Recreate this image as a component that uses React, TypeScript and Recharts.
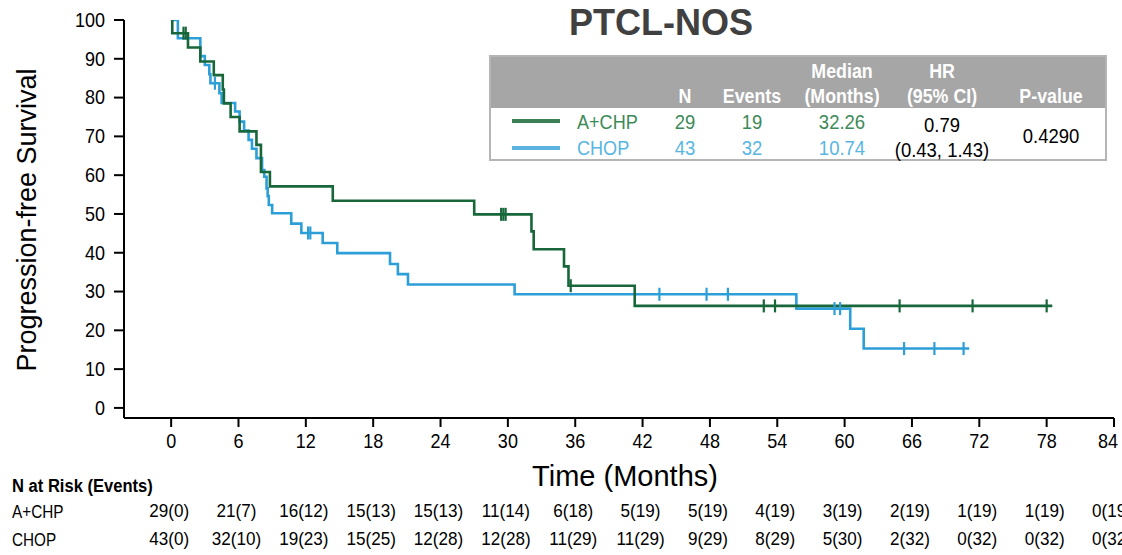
import React from 'react';
import { ComposedChart, Line, Scatter, XAxis, YAxis } from 'recharts';

const FONT = '"Liberation Sans", Arial, sans-serif';

const GREEN = '#17673a';
const BLUE = '#2d9fd8';
const GREEN_TXT = '#3d8a58';
const BLUE_TXT = '#58b6e2';

const xTicks = [0, 6, 12, 18, 24, 30, 36, 42, 48, 54, 60, 66, 72, 78, 84];
const yTicks = [0, 10, 20, 30, 40, 50, 60, 70, 80, 90, 100];

// A+CHP KM steps
const achpTimes = [0, 0.1, 1.5, 2.6, 3.8, 4.6, 4.7, 5.3, 6.1, 7.6, 8.0, 8.8, 14.4, 27.0, 32.1, 32.3, 35.0, 35.4, 41.3, 78.5];
const achpSurv = [100, 96.6, 92.9, 89.3, 85.8, 82.1, 78.5, 75.0, 71.3, 67.8, 60.8, 57.1, 53.4, 49.9, 45.5, 40.9, 36.5, 31.5, 26.3, 26.3];
const achpCensorTimes = [1.1, 1.3, 29.4, 29.6, 29.8, 35.6, 52.8, 53.8, 64.9, 71.4, 78.0];
const achpCensorSurv = [96.6, 96.6, 49.9, 49.9, 49.9, 31.5, 26.3, 26.3, 26.3, 26.3, 26.3];

// CHOP KM steps
const chopTimes = [0, 0.6, 2.6, 3.0, 3.4, 3.5, 4.3, 4.5, 5.7, 6.1, 6.5, 6.9, 7.2, 7.6, 8.1, 8.3, 8.5, 8.6, 8.7, 9.0, 10.7, 11.6, 13.5, 14.8, 19.5, 20.2, 21.1, 30.6, 55.7, 60.5, 61.7, 71.1];
const chopSurv = [100, 95.3, 90.7, 88.4, 86.0, 83.7, 81.1, 78.6, 76.4, 73.8, 71.5, 69.1, 66.8, 64.4, 61.3, 59.6, 56.6, 54.6, 52.3, 50.2, 47.5, 45.1, 42.5, 39.9, 37.1, 34.5, 31.8, 29.3, 25.6, 20.4, 15.3, 15.3];
const chopCensorTimes = [3.9, 12.2, 12.4, 43.5, 47.7, 49.6, 59.1, 59.6, 65.3, 68.0, 70.6];
const chopCensorSurv = [83.7, 45.1, 45.1, 29.3, 29.3, 29.3, 25.6, 25.6, 15.3, 15.3, 15.3];

const riskACHP = ['29(0)', '21(7)', '16(12)', '15(13)', '15(13)', '11(14)', '6(18)', '5(19)', '5(19)', '4(19)', '3(19)', '2(19)', '1(19)', '1(19)', '0(19)'];
const riskCHOP = ['43(0)', '32(10)', '19(23)', '15(25)', '12(28)', '12(28)', '11(29)', '11(29)', '9(29)', '8(29)', '5(30)', '2(32)', '0(32)', '0(32)', '0(32)'];

const arms = ['A+CHP', 'CHOP'];
const armN = ['29', '43'];
const armEvents = ['19', '32'];
const armMedian = ['32.26', '10.74'];
const hrValue = '0.79';
const hrCI = '(0.43, 1.43)';
const pValue = '0.4290';

const zip = (t: number[], s: number[]) => t.map((v, i) => ({ t: v, s: s[i] }));
const achpData = zip(achpTimes, achpSurv);
const chopData = zip(chopTimes, chopSurv);
const achpCensor = zip(achpCensorTimes, achpCensorSurv);
const chopCensor = zip(chopCensorTimes, chopCensorSurv);

const censorShape = (color: string) => (props: any) => {
  const { cx, cy } = props;
  return <line x1={cx} x2={cx} y1={cy - 6.5} y2={cy + 6.5} stroke={color} strokeWidth={2.2} />;
};

const XTick = (props: any) => {
  const { x, y, payload } = props;
  const i = xTicks.indexOf(payload.value);
  const last = i === xTicks.length - 1;
  const common = { textAnchor: 'middle' as const, dominantBaseline: 'central' as const, fontFamily: FONT, fill: '#000' };
  return (
    <g>
      <text transform={`translate(${last ? x - 6 : x},${y + 10}) scale(0.9,1)`} fontSize={20} {...common}>{payload.value}</text>
      <text transform={`translate(${x - 2},${y + 80}) scale(0.95,1)`} fontSize={18} {...common}>{riskACHP[i]}</text>
      <text transform={`translate(${x - 2},${y + 108}) scale(0.95,1)`} fontSize={18} {...common}>{riskCHOP[i]}</text>
    </g>
  );
};

const YTick = (props: any) => {
  const { x, y, payload } = props;
  return (
    <text transform={`translate(${x},${y}) scale(0.9,1)`} textAnchor="end" dominantBaseline="central" fontSize={20} fontFamily={FONT} fill="#000">
      {payload.value}
    </text>
  );
};

const T = ({ x, y, children, style, sx = 0.88 }: any) => (
  <div
    style={{
      position: 'absolute',
      left: x,
      top: y,
      transform: `translate(-50%, -50%) scaleX(${sx})`,
      whiteSpace: 'nowrap',
      lineHeight: 1,
      fontFamily: FONT,
      ...style,
    }}
  >
    {children}
  </div>
);

const L = ({ x, y, children, style, sx = 0.86 }: any) => (
  <div
    style={{
      position: 'absolute',
      left: x,
      top: y,
      transformOrigin: 'left center',
      transform: `translate(0, -50%) scaleX(${sx})`,
      whiteSpace: 'nowrap',
      lineHeight: 1,
      fontFamily: FONT,
      ...style,
    }}
  >
    {children}
  </div>
);

export default function App() {
  const hdr = { color: '#fff', fontWeight: 700, fontSize: 20 };
  const body = { fontSize: 21 };
  return (
    <div style={{ position: 'absolute', left: 0, top: 0, width: 1122, height: 555, background: '#fff', overflow: 'hidden' }}>
      <ComposedChart width={1122} height={555} margin={{ top: 20, right: 8, left: 0, bottom: 0 }}>
        <XAxis
          xAxisId="main"
          type="number"
          dataKey="t"
          domain={[-4.2, 84]}
          allowDataOverflow
          ticks={xTicks}
          interval={0}
          height={137}
          tickSize={9}
          tickMargin={4}
          axisLine={{ stroke: '#000', strokeWidth: 2 }}
          tickLine={{ stroke: '#000', strokeWidth: 2 }}
          tick={<XTick />}
          label={{ value: 'Time (Months)', position: 'insideBottom', offset: 69, dx: 6, fill: '#000', fontSize: 29, fontFamily: FONT }}
        />
        <YAxis
          type="number"
          dataKey="s"
          domain={[-2.6, 100]}
          allowDataOverflow
          ticks={yTicks}
          interval={0}
          width={124}
          tickSize={10}
          tickMargin={9}
          axisLine={{ stroke: '#000', strokeWidth: 2 }}
          tickLine={{ stroke: '#000', strokeWidth: 2 }}
          tick={<YTick />}
        />
        <Line xAxisId="main" data={chopData} dataKey="s" type="stepAfter" stroke={BLUE} strokeWidth={2.6} dot={false} isAnimationActive={false} />
        <Line xAxisId="main" data={achpData} dataKey="s" type="stepAfter" stroke={GREEN} strokeWidth={2.6} dot={false} isAnimationActive={false} />
        <Scatter xAxisId="main" data={chopCensor} dataKey="s" shape={censorShape(BLUE)} isAnimationActive={false} />
        <Scatter xAxisId="main" data={achpCensor} dataKey="s" shape={censorShape(GREEN)} isAnimationActive={false} />
      </ComposedChart>

      {/* Y label */}
      <div
        style={{
          position: 'absolute',
          left: 27,
          top: 220,
          transform: 'translate(-50%, -50%) rotate(-90deg)',
          whiteSpace: 'nowrap',
          fontFamily: FONT,
          fontSize: 27,
          lineHeight: 1,
        }}
      >
        Progression-free Survival
      </div>

      {/* Title */}
      <T x={661} y={23} sx={1} style={{ fontWeight: 700, fontSize: 36, color: '#404040' }}>PTCL-NOS</T>

      {/* Legend table */}
      <div style={{ position: 'absolute', left: 489, top: 55, width: 618, height: 106, border: '2px solid #b5b5b5', boxSizing: 'border-box', background: '#fff' }}>
        <div style={{ height: 51, background: '#a6a6a6' }} />
      </div>
      <T x={685} y={96} sx={0.89} style={hdr}>N</T>
      <T x={752} y={96} sx={0.89} style={hdr}>Events</T>
      <T x={842} y={71} sx={0.89} style={hdr}>Median</T>
      <T x={842} y={96} sx={0.89} style={hdr}>(Months)</T>
      <T x={942} y={71} sx={0.89} style={hdr}>HR</T>
      <T x={942} y={96} sx={0.89} style={hdr}>(95% CI)</T>
      <T x={1051} y={96} sx={0.89} style={hdr}>P-value</T>

      <div style={{ position: 'absolute', left: 512, top: 119, width: 48, height: 4, background: '#3d7f55' }} />
      <div style={{ position: 'absolute', left: 512, top: 146, width: 48, height: 4, background: '#5ab4df' }} />
      <L x={577} y={121} style={{ ...body, color: GREEN_TXT }}>{arms[0]}</L>
      <L x={577} y={147} style={{ ...body, color: BLUE_TXT }}>{arms[1]}</L>
      <T x={685} y={121} style={{ ...body, color: GREEN_TXT }}>{armN[0]}</T>
      <T x={685} y={147} style={{ ...body, color: BLUE_TXT }}>{armN[1]}</T>
      <T x={752} y={121} style={{ ...body, color: GREEN_TXT }}>{armEvents[0]}</T>
      <T x={752} y={147} style={{ ...body, color: BLUE_TXT }}>{armEvents[1]}</T>
      <T x={842} y={121} style={{ ...body, color: GREEN_TXT }}>{armMedian[0]}</T>
      <T x={842} y={147} style={{ ...body, color: BLUE_TXT }}>{armMedian[1]}</T>
      <T x={942} y={124} style={{ ...body, color: '#000' }}>{hrValue}</T>
      <T x={942} y={149} style={{ ...body, color: '#000' }}>{hrCI}</T>
      <T x={1051} y={135} style={{ ...body, color: '#000' }}>{pValue}</T>

      {/* At-risk labels */}
      <L x={12} y={486} sx={0.92} style={{ fontSize: 18, fontWeight: 700, color: '#000' }}>N at Risk (Events)</L>
      <L x={12} y={512} sx={0.85} style={{ fontSize: 18, color: '#000' }}>{arms[0]}</L>
      <L x={12} y={540} sx={0.85} style={{ fontSize: 18, color: '#000' }}>{arms[1]}</L>
    </div>
  );
}
